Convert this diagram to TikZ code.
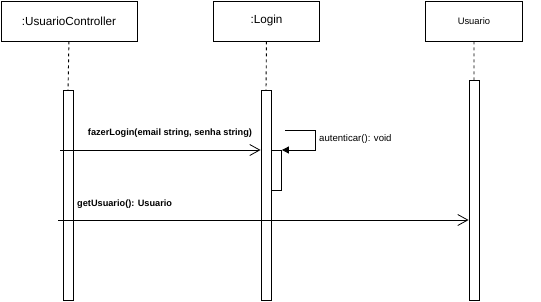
\documentclass[tikz,border=0pt]{standalone}
\usepackage{fontspec}
\setmainfont{Liberation Sans}
\usetikzlibrary{arrows.meta,calc}
\begin{document}
\begin{tikzpicture}[x=1pt,y=-1pt,
  lw/.style={line width=0.9pt},
  head/.style={draw,lw,minimum width=#1,minimum height=40pt,inner sep=0pt,anchor=north west,font=\fontsize{11.7}{14}\selectfont},
  actbar/.style={draw,lw,fill=white,minimum width=10pt,inner sep=0pt,anchor=north},
  life/.style={lw,dash pattern=on 3pt off 3pt},
  msg/.style={lw,-{Straight Barb[length=10pt,width=11pt,line width=0.8pt]}},
  selfmsg/.style={lw,-{Triangle[length=7pt,width=7pt]}},
  msglabel/.style={font=\fontsize{9.2}{11}\bfseries\selectfont,inner sep=0pt},
  note/.style={font=\fontsize{9.6}{11}\selectfont,inner sep=0pt,anchor=west}]
\useasboundingbox (0,0) rectangle (541,301);

% participants
\node[head=136pt] (uc) at (0.5,0.5) {:UsuarioController};
\node[head=106pt] (lg) at (213,0.5) {:Login};
\node[head=97pt,font=\fontsize{9.4}{11}\selectfont] (us) at (425,0.5) {Usuario};

% activation bars
\node[actbar,minimum height=210pt] (ucA) at (68,90) {};
\node[actbar,minimum height=210pt] (lgA) at (266,90) {};
\node[actbar,minimum height=220pt] (usA) at (474,80) {};
\node[actbar,minimum height=40pt,anchor=north west] (lgB) at (271,150) {};

% lifelines
\draw[life] (uc.south) -- (ucA.north);
\draw[life] (lg.south) -- (lgA.north);
\draw[life] (us.south) -- (usA.north);

% fazerLogin
\coordinate (m1s) at (60,150);
\draw[msg] (m1s) -- (lgA.west |- m1s);
\node[msglabel] at (170,133) {fazerLogin(email string, senha string)};

% autenticar (self call)
\coordinate (s0) at (285,130);
\coordinate (s1) at (315,130);
\draw[selfmsg] (s0) -- (s1) -- (s1 |- lgB.north) -- (lgB.north east);
\node[note] at (319,139) {autenticar(): void};

% getUsuario
\coordinate (m2s) at (58,220);
\draw[msg] (m2s) -- (usA.west |- m2s);
\node[msglabel,anchor=west] at (77,204) {getUsuario(): Usuario};
\end{tikzpicture}
\end{document}
